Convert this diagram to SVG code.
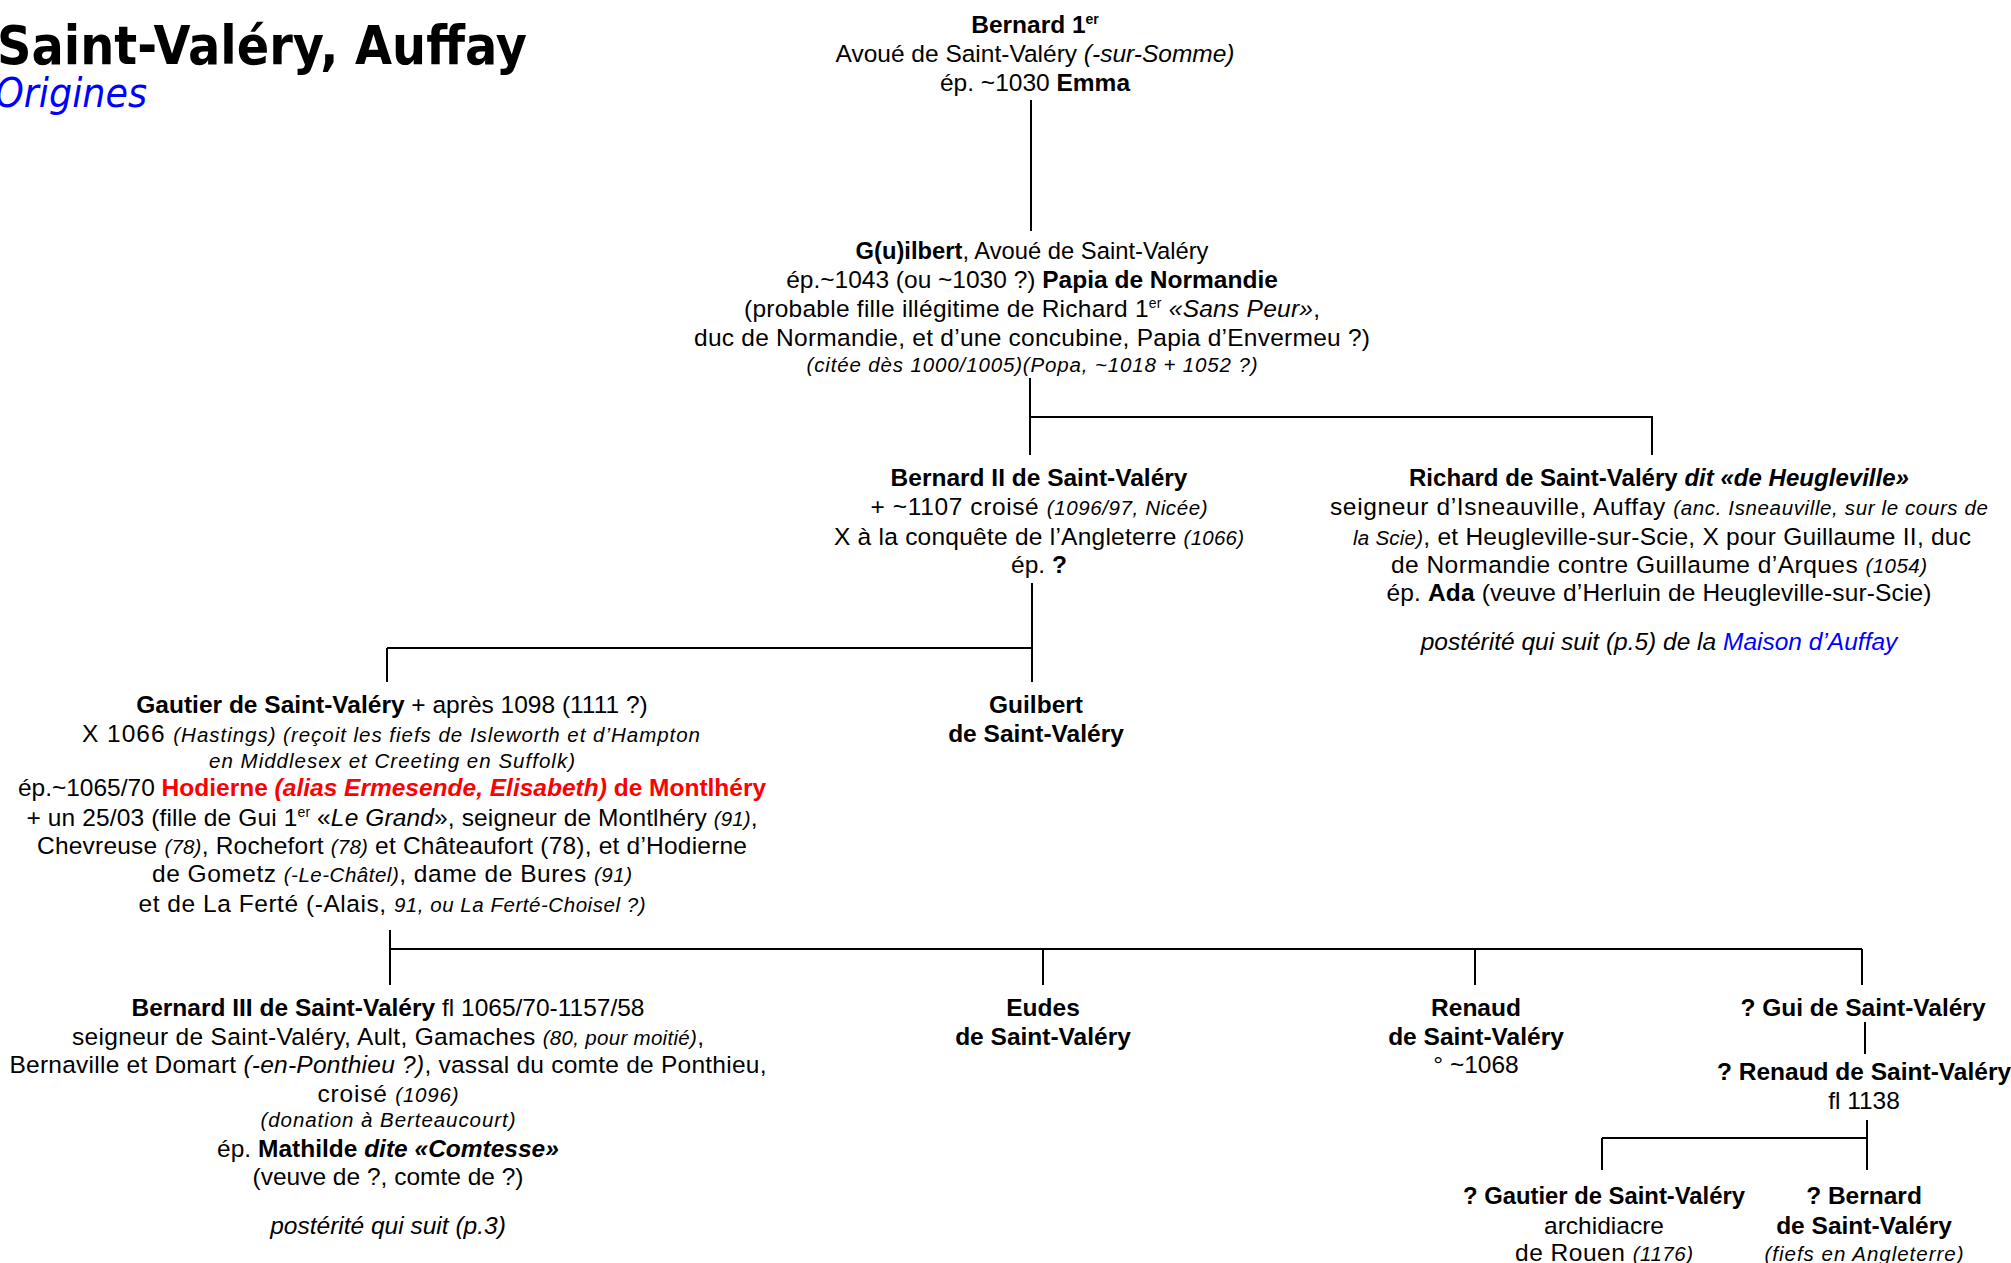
<svg xmlns="http://www.w3.org/2000/svg" width="2011" height="1263" viewBox="0 0 2011 1263">
<style>
.t{font-family:"Liberation Sans",Arial,sans-serif;font-size:24.5px;fill:#000;text-anchor:middle}
.b{font-weight:bold}
.i{font-style:italic}
.s{font-size:20.5px}
.sup{font-size:14px}
.red{fill:#ff0000}
.blue{fill:#0000ff}
.ln{stroke:#000;stroke-width:2;fill:none}
.title{font-family:"DejaVu Sans",Verdana,sans-serif;font-weight:bold;font-size:54px;fill:#000}
.sub{font-family:"DejaVu Sans",Verdana,sans-serif;font-style:italic;font-size:40px;fill:#0000ff}
</style>
<rect width="2011" height="1263" fill="#fff"/>
<g id="title">
<text class="title" x="-3" y="64" textLength="530" lengthAdjust="spacingAndGlyphs">Saint-Valéry, Auffay</text>
<text class="sub" x="-5" y="107" textLength="152" lengthAdjust="spacingAndGlyphs">Origines</text>
</g>
<g id="connectors">
<path class="ln" d="M1031 100V231"/>
<path class="ln" d="M1030 378V455M1030 417H1652V455"/>
<path class="ln" d="M1032 583V682M387 648H1032M387 648V682"/>
<path class="ln" d="M390 930V985M390 949H1862M1043 949V985M1475 949V985M1862 949V985"/>
<path class="ln" d="M1865 1022V1054"/>
<path class="ln" d="M1867 1120V1170M1602 1138H1867M1602 1138V1170"/>
</g>
<g id="bernard1">
<text class="t" x="1035" y="33"><tspan class="b">Bernard 1</tspan><tspan class="b sup" dy="-9">er</tspan></text>
<text class="t" x="1035" y="62">Avoué de Saint-Valéry <tspan class="i">(-sur-Somme)</tspan></text>
<text class="t" x="1035" y="91">ép. ~1030 <tspan class="b">Emma</tspan></text>
</g>
<g id="guilbert1">
<text class="t" x="1032" y="259" textLength="353" lengthAdjust="spacingAndGlyphs"><tspan class="b">G(u)ilbert</tspan>, Avoué de Saint-Valéry</text>
<text class="t" x="1032" y="288">ép.~1043 (ou ~1030 ?) <tspan class="b">Papia de Normandie</tspan></text>
<text class="t" x="1032" y="317" textLength="576">(probable fille illégitime de Richard 1<tspan class="sup" dy="-9">er</tspan><tspan dy="9"> </tspan><tspan class="i">«Sans Peur»</tspan>,</text>
<text class="t" x="1032" y="346" textLength="676">duc de Normandie, et d’une concubine, Papia d’Envermeu ?)</text>
<text class="t i s" x="1032" y="372" textLength="451">(citée dès 1000/1005)(Popa, ~1018 + 1052 ?)</text>
</g>
<g id="bernard2">
<text class="t b" x="1039" y="486">Bernard II de Saint-Valéry</text>
<text class="t" x="1039" y="515" textLength="337">+ ~1107 croisé <tspan class="i s">(1096/97, Nicée)</tspan></text>
<text class="t" x="1039" y="545" textLength="410">X à la conquête de l’Angleterre <tspan class="i s">(1066)</tspan></text>
<text class="t" x="1039" y="573">ép. <tspan class="b">?</tspan></text>
</g>
<g id="richard">
<text class="t b" x="1659" y="486" textLength="500" lengthAdjust="spacingAndGlyphs">Richard de Saint-Valéry <tspan class="i">dit «de Heugleville»</tspan></text>
<text class="t" x="1659" y="515" textLength="658">seigneur d’Isneauville, Auffay <tspan class="i s">(anc. Isneauville, sur le cours de</tspan></text>
<text class="t" x="1662" y="545" textLength="618"><tspan class="i s">la Scie)</tspan>, et Heugleville-sur-Scie, X pour Guillaume II, duc</text>
<text class="t" x="1659" y="573" textLength="536">de Normandie contre Guillaume d’Arques <tspan class="i s">(1054)</tspan></text>
<text class="t" x="1659" y="601" textLength="545">ép. <tspan class="b">Ada</tspan> (veuve d’Herluin de Heugleville-sur-Scie)</text>
<text class="t i" x="1659" y="650">postérité qui suit (p.5) de la <tspan class="blue">Maison d’Auffay</tspan></text>
</g>
<g id="gautier">
<text class="t" x="392" y="713"><tspan class="b">Gautier de Saint-Valéry</tspan> + après 1098 (1111 ?)</text>
<text class="t" x="391" y="742" textLength="618">X 1066 <tspan class="i s">(Hastings) (reçoit les fiefs de Isleworth et d’Hampton</tspan></text>
<text class="t i s" x="392" y="768" textLength="366">en Middlesex et Creeting en Suffolk)</text>
<text class="t" x="392" y="796">ép.~1065/70 <tspan class="b red">Hodierne <tspan class="i">(alias Ermesende, Elisabeth)</tspan> de Montlhéry</tspan></text>
<text class="t" x="392" y="826" textLength="731">+ un 25/03 (fille de Gui 1<tspan class="sup" dy="-9">er</tspan><tspan dy="9"> «</tspan><tspan class="i">Le Grand</tspan>», seigneur de Montlhéry <tspan class="i s">(91)</tspan>,</text>
<text class="t" x="392" y="854" textLength="710">Chevreuse <tspan class="i s">(78)</tspan>, Rochefort <tspan class="i s">(78)</tspan> et Châteaufort (78), et d’Hodierne</text>
<text class="t" x="392" y="882" textLength="480">de Gometz <tspan class="i s">(-Le-Châtel)</tspan>, dame de Bures <tspan class="i s">(91)</tspan></text>
<text class="t" x="392" y="912" textLength="507">et de La Ferté (-Alais, <tspan class="i s">91, ou La Ferté-Choisel ?)</tspan></text>
</g>
<g id="guilbert2">
<text class="t b" x="1036" y="713">Guilbert</text>
<text class="t b" x="1036" y="742">de Saint-Valéry</text>
</g>
<g id="bernard3">
<text class="t" x="388" y="1016"><tspan class="b">Bernard III de Saint-Valéry</tspan> fl 1065/70-1157/58</text>
<text class="t" x="388" y="1045" textLength="632">seigneur de Saint-Valéry, Ault, Gamaches <tspan class="i s">(80, pour moitié)</tspan>,</text>
<text class="t" x="388" y="1073" textLength="757">Bernaville et Domart <tspan class="i">(-en-Ponthieu ?)</tspan>, vassal du comte de Ponthieu,</text>
<text class="t" x="388" y="1102" textLength="141">croisé <tspan class="i s">(1096)</tspan></text>
<text class="t i s" x="388" y="1127" textLength="255">(donation à Berteaucourt)</text>
<text class="t" x="388" y="1157">ép. <tspan class="b">Mathilde <tspan class="i">dite «Comtesse»</tspan></tspan></text>
<text class="t" x="388" y="1185">(veuve de ?, comte de ?)</text>
<text class="t i" x="388" y="1234">postérité qui suit (p.3)</text>
</g>
<g id="eudes">
<text class="t b" x="1043" y="1016">Eudes</text>
<text class="t b" x="1043" y="1045">de Saint-Valéry</text>
</g>
<g id="renaud1">
<text class="t b" x="1476" y="1016">Renaud</text>
<text class="t b" x="1476" y="1045">de Saint-Valéry</text>
<text class="t" x="1476" y="1073">° ~1068</text>
</g>
<g id="gui">
<text class="t b" x="1863" y="1016">? Gui de Saint-Valéry</text>
</g>
<g id="renaud2">
<text class="t b" x="1864" y="1080">? Renaud de Saint-Valéry</text>
<text class="t" x="1864" y="1109">fl 1138</text>
</g>
<g id="gautier2">
<text class="t b" x="1604" y="1204" textLength="282" lengthAdjust="spacingAndGlyphs">? Gautier de Saint-Valéry</text>
<text class="t" x="1604" y="1234">archidiacre</text>
<text class="t" x="1604" y="1261" textLength="178">de Rouen <tspan class="i s">(1176)</tspan></text>
</g>
<g id="bernard4">
<text class="t b" x="1864" y="1204">? Bernard</text>
<text class="t b" x="1864" y="1234">de Saint-Valéry</text>
<text class="t i s" x="1864" y="1261" textLength="199">(fiefs en Angleterre)</text>
</g>
</svg>
